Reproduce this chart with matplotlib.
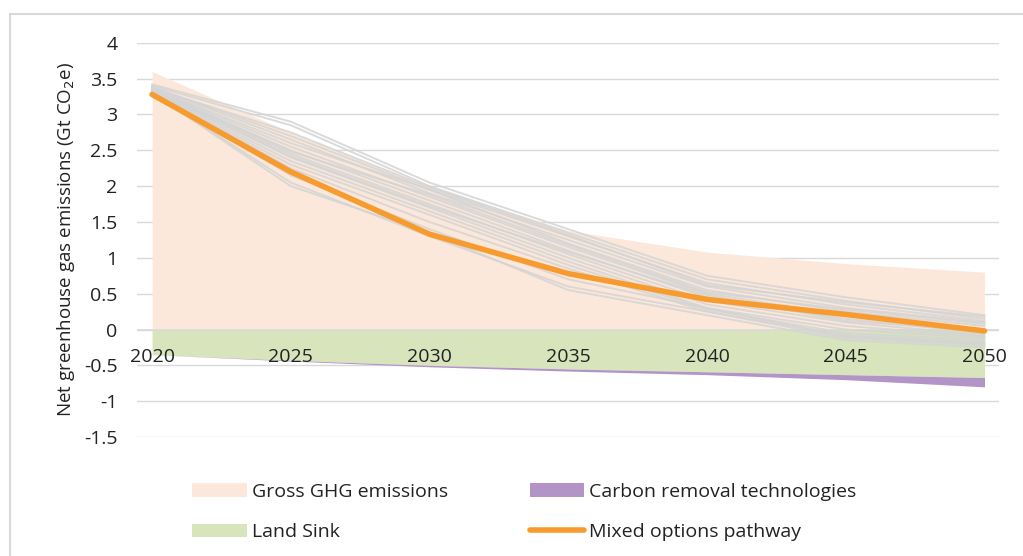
import numpy as np
import matplotlib.pyplot as plt
from matplotlib.patches import Patch
from matplotlib.lines import Line2D

plt.rcParams['font.family'] = ['Open Sans', 'DejaVu Sans']

years = [2020, 2025, 2030, 2035, 2040, 2045, 2050]
gross = [3.60, 2.75, 2.00, 1.38, 1.08, 0.92, 0.80]
land_sink = [-0.35, -0.43, -0.50, -0.55, -0.59, -0.63, -0.67]
carbon_removal = [0.0, 0.01, 0.02, 0.03, 0.04, 0.07, 0.13]
mixed = [3.28, 2.20, 1.33, 0.78, 0.42, 0.21, -0.02]

# other scenario pathways (grey)
scenarios = [
    [3.42, 2.90, 2.05, 1.40, 0.75, 0.45, 0.20],
    [3.40, 2.85, 2.00, 1.35, 0.70, 0.40, 0.15],
    [3.38, 2.70, 1.95, 1.30, 0.65, 0.35, 0.12],
    [3.38, 2.65, 1.90, 1.25, 0.60, 0.30, 0.10],
    [3.36, 2.60, 1.95, 1.20, 0.55, 0.25, 0.05],
    [3.36, 2.55, 1.85, 1.15, 0.50, 0.20, 0.00],
    [3.35, 2.50, 1.80, 1.10, 0.45, 0.15, -0.05],
    [3.35, 2.45, 1.75, 1.05, 0.40, 0.10, -0.08],
    [3.34, 2.40, 1.70, 1.00, 0.35, 0.05, -0.10],
    [3.33, 2.35, 1.65, 0.95, 0.30, 0.00, -0.12],
    [3.32, 2.30, 1.60, 0.90, 0.28, -0.05, -0.15],
    [3.32, 2.25, 1.50, 0.85, 0.25, -0.08, -0.18],
    [3.31, 2.15, 1.40, 0.70, 0.30, -0.10, -0.20],
    [3.30, 2.05, 1.30, 0.60, 0.25, -0.12, -0.22],
    [3.30, 2.00, 1.35, 0.55, 0.20, -0.15, -0.25],
    [3.37, 2.75, 1.98, 1.32, 0.62, 0.38, 0.18],
    [3.34, 2.48, 1.88, 1.18, 0.52, 0.28, 0.08],
    [3.33, 2.42, 1.72, 1.08, 0.48, 0.12, -0.02],
]

yticks = [4, 3.5, 3, 2.5, 2, 1.5, 1, 0.5, 0, -0.5, -1, -1.5]
ytick_labels = ['4', '3.5', '3', '2.5', '2', '1.5', '1', '0.5', '0', '-0.5', '-1', '-1.5']

PEACH = '#FCE8DA'
GREEN = '#D8E4BC'
PURPLE = '#B294C7'
ORANGE = '#F79B2E'
GREY = '#D4D4D4'
TXT = '#222222'

fig = plt.figure(figsize=(10.23, 5.56), dpi=100)
ax = fig.add_axes([0.134, 0.214, 0.843, 0.709])

x = np.array(years)
land = np.array(land_sink)
ax.fill_between(x, 0, gross, color=PEACH, lw=0, zorder=1)
ax.fill_between(x, 0, land, color=GREEN, lw=0, zorder=1)
ax.fill_between(x, land, land - np.array(carbon_removal), color=PURPLE, lw=0, zorder=1)
ax.axhline(0, color='#D9D9D9', lw=1.2, zorder=2)

for s in scenarios:
    ax.plot(x, s, color=GREY, lw=1.4, alpha=0.85, zorder=3)
ax.plot(x, mixed, color=ORANGE, lw=4, solid_capstyle='round', zorder=4)

ax.set_xlim(2019.46, 2050.54)
ax.set_ylim(-1.5, 4)
ax.set_yticks(yticks)
ax.set_yticklabels(ytick_labels)
ax.grid(axis='y', color='#D9D9D9', lw=1, zorder=0)
ax.set_axisbelow(True)
for sp in ax.spines.values():
    sp.set_visible(False)
ax.spines['bottom'].set_position(('data', 0))
ax.set_xticks(years)
ax.xaxis.set_zorder(6)
ax.tick_params(axis='x', length=0, pad=13, labelsize=14, colors=TXT)
ax.tick_params(axis='y', length=0, pad=14, labelsize=14, colors=TXT)
ax.set_ylabel('Net greenhouse gas emissions (Gt CO$_2$e)', fontsize=13.5, color=TXT, labelpad=5)

handles = [
    Patch(facecolor=PEACH, edgecolor='none'),
    Patch(facecolor=GREEN, edgecolor='none'),
    Patch(facecolor=PURPLE, edgecolor='none'),
    Line2D([0], [0], color=ORANGE, lw=4, solid_capstyle='round'),
]
labels = ['Gross GHG emissions', 'Land Sink', 'Carbon removal technologies', 'Mixed options pathway']
fig.legend(handles, labels, ncol=2, loc='upper left', bbox_to_anchor=(0.171, 0.163),
           frameon=False, fontsize=14, handlelength=2.8, handletextpad=0.25,
           columnspacing=4.2, labelspacing=1.15, labelcolor=TXT)

# light frame around the figure
fig.add_artist(Line2D([0.0098, 0.0098], [0, 0.975], color='#D9D9D9', lw=1.5, transform=fig.transFigure))
fig.add_artist(Line2D([0.0098, 1.0], [0.975, 0.975], color='#D9D9D9', lw=1.5, transform=fig.transFigure))

fig.savefig('out.png', dpi=100)
